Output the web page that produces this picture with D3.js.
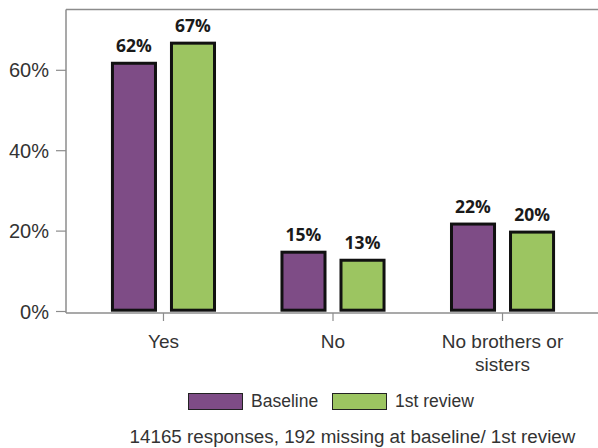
<!DOCTYPE html>
<html><head><meta charset="utf-8">
<script src="https://cdn.jsdelivr.net/npm/d3@7"></script>
<style>
body{margin:0;background:#fff;}
svg{display:block;font-family:"Liberation Sans",Arial,sans-serif;}
</style></head>
<body><svg id="c" width="598" height="448"></svg>
<script>
const categories = ["Yes", "No", "No brothers or sisters"];
const seriesNames = ["Baseline", "1st review"];
const baseline = [62, 15, 22];
const review1 = [67, 13, 20];
const yTicks = [0, 20, 40, 60];
const footnote = "14165 responses, 192 missing at baseline/ 1st review";
const colors = ["#7e4c86", "#9cc561"];

(function(){
const svg = d3.select("#c");
const pLeft = 66, pRight = 600, pTop = 9.5, zero = 311, axisY = 313;

const x0 = d3.scaleBand().domain(categories).range([pLeft, pRight]).paddingInner(0).paddingOuter(0.075);
const x1 = d3.scaleBand().domain(seriesNames).range([0, x0.bandwidth()]).paddingInner(0.22).paddingOuter(0.546);
const y = d3.scaleLinear().domain([0, 75]).range([zero, pTop]);

const rows = categories.map((c, i) => ({cat: c, vals: [baseline[i], review1[i]]}));

// frame lines
svg.append("line").attr("x1", pLeft).attr("x2", 598).attr("y1", pTop).attr("y2", pTop).attr("stroke", "#8c8c8c").attr("stroke-width", 1.5);
svg.append("line").attr("x1", pLeft).attr("x2", pLeft).attr("y1", pTop).attr("y2", axisY).attr("stroke", "#8c8c8c").attr("stroke-width", 1.5);
svg.append("line").attr("x1", pLeft).attr("x2", 598).attr("y1", axisY).attr("y2", axisY).attr("stroke", "#8c8c8c").attr("stroke-width", 1.5);

// y axis
const yAxis = d3.axisLeft(y).tickValues(yTicks).tickFormat(d => d + "%").tickSize(10).tickPadding(7);
const ya = svg.append("g").attr("transform", `translate(${pLeft},0)`).call(yAxis);
ya.attr("font-size", null).attr("font-family", null);
ya.select(".domain").remove();
ya.selectAll(".tick line").attr("stroke", "#8c8c8c").attr("stroke-width", 1.2);
ya.selectAll(".tick text").attr("fill", "#333").attr("dy", "0.35em").style("font-size", "20px");

// x axis
const xAxis = d3.axisBottom(x0).tickSize(8).tickPadding(10);
const xa = svg.append("g").attr("transform", `translate(0,${axisY})`).call(xAxis);
xa.attr("font-size", null).attr("font-family", null);
xa.select(".domain").remove();
xa.selectAll(".tick line").attr("stroke", "#8c8c8c").attr("stroke-width", 1.2);
xa.selectAll(".tick text").attr("fill", "#333").attr("y", 35).attr("dy", null).style("font-size", "19px")
  .each(function(d) {
    const t = d3.select(this);
    const words = d.split(" ");
    t.text(null);
    let line = [], lines = [];
    const probe = t.append("tspan");
    words.forEach(w => {
      line.push(w);
      probe.text(line.join(" "));
      if (probe.node().getComputedTextLength() > 145 && line.length > 1) {
        line.pop(); lines.push(line.join(" ")); line = [w];
      }
    });
    lines.push(line.join(" "));
    probe.remove();
    lines.forEach((l, i) => t.append("tspan").attr("x", 0).attr("dy", i === 0 ? 0 : 22.5).text(l));
  });

// bars
const g = svg.selectAll(".grp").data(rows).join("g").attr("class", "grp")
  .attr("transform", d => `translate(${x0(d.cat)},0)`);
const sw = 3;
g.selectAll("rect").data(d => d.vals.map((v, i) => ({s: seriesNames[i], v, i}))).join("rect")
  .attr("x", d => x1(d.s) + sw / 2)
  .attr("width", x1.bandwidth() - sw)
  .attr("y", d => y(d.v) + sw / 2)
  .attr("height", d => zero + 0.7 - y(d.v) - sw)
  .attr("fill", d => colors[d.i])
  .attr("stroke", "#111").attr("stroke-width", sw);
g.selectAll("text.val").data(d => d.vals.map((v, i) => ({s: seriesNames[i], v, i}))).join("text")
  .attr("class", "val")
  .attr("x", d => x1(d.s) + x1.bandwidth() / 2)
  .attr("y", d => y(d.v) - 10)
  .attr("text-anchor", "middle")
  .attr("fill", "#1a1a1a")
  .style("font-family", "Open Sans, sans-serif")
  .style("font-weight", "bold").style("font-size", "17.5px")
  .text(d => d.v + "%");

// legend
const legendItems = [{n: seriesNames[0], x: 188, c: colors[0]}, {n: seriesNames[1], x: 332, c: colors[1]}];
const lg = svg.selectAll(".lg").data(legendItems).join("g").attr("class", "lg").attr("transform", d => `translate(${d.x},393)`);
lg.append("rect").attr("x", 0.5).attr("y", 0.5).attr("width", 54).attr("height", 16).attr("fill", d => d.c).attr("stroke", "#222").attr("stroke-width", 1);
lg.append("text").attr("x", 63).attr("y", 13.7).attr("fill", "#333").style("font-size", "17.5px").text(d => d.n);

svg.append("text").attr("x", 352.5).attr("y", 442.5).attr("text-anchor", "middle").attr("fill", "#333").style("font-size", "18.8px").text(footnote);
})();
</script></body></html>
